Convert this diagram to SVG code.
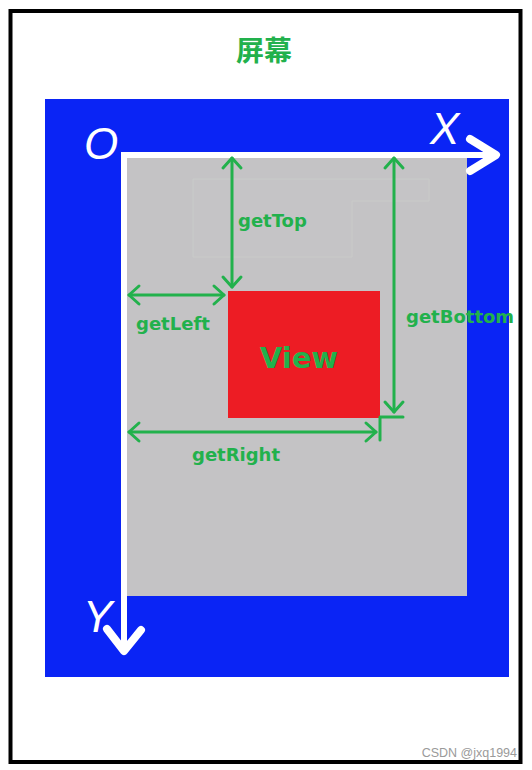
<svg xmlns="http://www.w3.org/2000/svg" width="532" height="770" viewBox="0 0 532 770">
<style>
.lbl{font-family:"DejaVu Sans","Noto Sans",sans-serif;font-weight:bold;fill:#22B14C;}
.axis{font-family:"Liberation Sans",Arial,sans-serif;font-style:italic;fill:#ffffff;font-size:44px;}
.dim{fill:none;stroke:#22B14C;stroke-width:3;stroke-linecap:round;stroke-linejoin:round;}
.ax{fill:none;stroke:#ffffff;stroke-linecap:round;stroke-linejoin:round;}
</style>
<defs>
<marker id="ga" markerUnits="userSpaceOnUse" markerWidth="30" markerHeight="30" refX="0" refY="0" orient="auto-start-reverse" overflow="visible">
<path d="M-10,-9 L0,0 L-10,9" fill="none" stroke="#22B14C" stroke-width="3" stroke-linecap="round" stroke-linejoin="round"/>
</marker>
</defs>
<rect x="0" y="0" width="532" height="770" fill="#ffffff"/>
<g id="frame">
<rect x="10.5" y="11" width="510" height="751" fill="#ffffff" stroke="#000000" stroke-width="4"/>
</g>
<g id="title">
<text x="264" y="61" text-anchor="middle" font-family="'Noto Sans CJK SC','Noto Sans CJK JP',sans-serif" font-weight="bold" font-size="28" fill="#22B14C">屏幕</text>
</g>
<g id="screen">
<rect x="45" y="99" width="464" height="578" fill="#0A24F5"/>
</g>
<g id="parent">
<rect x="124" y="155" width="343" height="441" fill="#C4C3C5"/>
<path d="M193,179 H429 V201 H352 V257 H193 Z" fill="#C5C4C6" stroke="#C9CBC9" stroke-width="1"/>
</g>
<g id="axes">
<path d="M124,648 V155 H494" fill="none" stroke="#ffffff" stroke-width="6" stroke-linejoin="miter"/>
<polyline class="ax" points="470,139 496,155 470,171" stroke-width="8"/>
<polyline class="ax" points="107,629 124,651 141,630" stroke-width="8"/>
<text class="axis" x="84" y="159">O</text>
<text class="axis" x="430" y="144">X</text>
<text class="axis" x="83" y="632">Y</text>
</g>
<g id="view">
<rect x="228" y="291" width="152" height="127" fill="#ED1C24"/>
<text class="lbl" x="299" y="368" text-anchor="middle" font-size="29">View</text>
</g>
<g id="connectors">
<line class="dim" x1="232" y1="158" x2="232" y2="287" marker-start="url(#ga)" marker-end="url(#ga)"/>
<line class="dim" x1="129" y1="295" x2="224" y2="295" marker-start="url(#ga)" marker-end="url(#ga)"/>
<line class="dim" x1="394" y1="158" x2="394" y2="412" marker-start="url(#ga)" marker-end="url(#ga)"/>
<line class="dim" x1="129" y1="432" x2="376" y2="432" marker-start="url(#ga)" marker-end="url(#ga)"/>
<path class="dim" d="M403,417 H380 V440" stroke-linecap="butt"/>
</g>
<g id="labels">
<text class="lbl" x="238" y="227" font-size="18">getTop</text>
<text class="lbl" x="136" y="330" font-size="18">getLeft</text>
<text class="lbl" x="406" y="323" font-size="18">getBottom</text>
<text class="lbl" x="192" y="461" font-size="18">getRight</text>
</g>
<g id="watermark">
<text x="517" y="757" text-anchor="end" font-family="'Liberation Sans',Arial,sans-serif" font-size="12.5" fill="#9a9a9a">CSDN @jxq1994</text>
</g>
</svg>
